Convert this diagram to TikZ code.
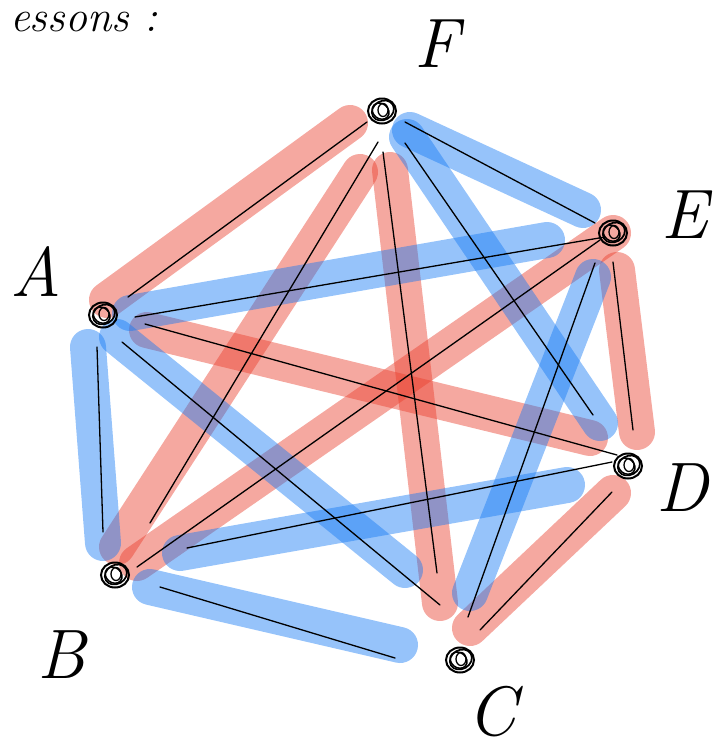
\documentclass[tikz,border=0pt]{standalone}
\usetikzlibrary{calc}
\definecolor{redpen}{RGB}{233,62,44}
\definecolor{bluepen}{RGB}{22,122,244}
\begin{document}
\begin{tikzpicture}[x=1pt,y=-1pt,
  band/.style={line width=36pt,line cap=round,draw opacity=0.45},
  rband/.style={band,draw=redpen},
  bband/.style={band,draw=bluepen},
  thin/.style={line width=1.3pt,black,line cap=round},
  lbl/.style={font=\fontsize{70}{70}\selectfont\itshape,inner sep=0pt},
  vtx/.style={inner sep=0pt,minimum size=28pt}]
\useasboundingbox (0,0) rectangle (716,748);
% vertices
\node[vtx] (F) at (382,111) {};
\node[vtx] (E) at (613,233) {};
\node[vtx] (A) at (103,315) {};
\node[vtx] (D) at (628,466) {};
\node[vtx] (B) at (115,575) {};
\node[vtx] (C) at (460,660) {};
% band end points
\coordinate (rAF1) at (107,300); \coordinate (rAF2) at (350,123);
\coordinate (rFB1) at (360,172); \coordinate (rFB2) at (117,547);
\coordinate (rFC1) at (390,170); \coordinate (rFC2) at (440,603);
\coordinate (rAD1) at (147,330); \coordinate (rAD2) at (590,438);
\coordinate (rBE1) at (137,563); \coordinate (rBE2) at (613,233);
\coordinate (rED1) at (617,270); \coordinate (rED2) at (637,432);
\coordinate (rDC1) at (613,493); \coordinate (rDC2) at (470,628);
\coordinate (bFE1) at (410,130); \coordinate (bFE2) at (583,210);
\coordinate (bFD1) at (407,137); \coordinate (bFD2) at (600,423);
\coordinate (bAE1) at (130,313); \coordinate (bAE2) at (547,240);
\coordinate (bAB1) at (88,347);  \coordinate (bAB2) at (103,543);
\coordinate (bAC1) at (117,337); \coordinate (bAC2) at (405,570);
\coordinate (bBD1) at (180,553); \coordinate (bBD2) at (567,485);
\coordinate (bBC1) at (150,587); \coordinate (bBC2) at (400,645);
\coordinate (bEC1) at (593,277); \coordinate (bEC2) at (470,593);
% thin line end points
\coordinate (tAF1) at (128,297); \coordinate (tAF2) at (367,122);
\coordinate (tFB1) at (378,142); \coordinate (tFB2) at (150,523);
\coordinate (tFC1) at (383,152); \coordinate (tFC2) at (437,573);
\coordinate (tAD1) at (145,324); \coordinate (tAD2) at (617,455);
\coordinate (tBE1) at (137,567); \coordinate (tBE2) at (600,240);
\coordinate (tED1) at (613,262); \coordinate (tED2) at (633,430);
\coordinate (tDC1) at (612,492); \coordinate (tDC2) at (480,630);
\coordinate (tFE1) at (405,122); \coordinate (tFE2) at (595,223);
\coordinate (tFD1) at (405,143); \coordinate (tFD2) at (593,415);
\coordinate (tAE1) at (135,317); \coordinate (tAE2) at (605,237);
\coordinate (tAB1) at (97,347);  \coordinate (tAB2) at (103,532);
\coordinate (tAC1) at (122,342); \coordinate (tAC2) at (440,605);
\coordinate (tBD1) at (187,548); \coordinate (tBD2) at (612,462);
\coordinate (tBC1) at (160,587); \coordinate (tBC2) at (395,658);
\coordinate (tEC1) at (595,263); \coordinate (tEC2) at (468,617);
% bands
\foreach \e in {AF,FB,FC,AD,BE,ED,DC}{\draw[rband] (r\e1) -- (r\e2);}
\foreach \e in {FE,FD,AE,AB,AC,BD,BC,EC}{\draw[bband] (b\e1) -- (b\e2);}
% thin lines
\foreach \e in {AF,FB,FC,AD,BE,ED,DC,FE,FD,AE,AB,AC,BD,BC,EC}{\draw[thin] (t\e1) -- (t\e2);}
% scribbled vertex marks
\foreach \v in {F,E,A,D,B,C}{
  \draw[line width=2pt] (\v) ellipse [x radius=14, y radius=12.5];
  \draw[line width=1.7pt,rotate around={30:(\v)}] ($(\v)+(1,0)$) ellipse [x radius=11.5, y radius=9.5];
  \draw[line width=1.5pt,rotate around={-40:(\v)}] ($(\v)+(-1,1)$) ellipse [x radius=9, y radius=7.5];
  \draw[line width=1.3pt] ($(\v)+(1,-1)$) ellipse [x radius=5, y radius=6.5];
}
% labels
\node[lbl] (lF) at (437,44) {F};
\node[lbl] (lE) at (685,215) {E};
\node[lbl] (lA) at (36,272) {A};
\node[lbl] (lD) at (682,488) {D};
\node[lbl] (lB) at (62,655) {B};
\node[lbl] (lC) at (492,712) {C};
\node[font=\fontsize{44}{44}\selectfont\itshape,anchor=north west,inner sep=0pt] (title) at (10,12) {essons :};
\end{tikzpicture}
\end{document}
